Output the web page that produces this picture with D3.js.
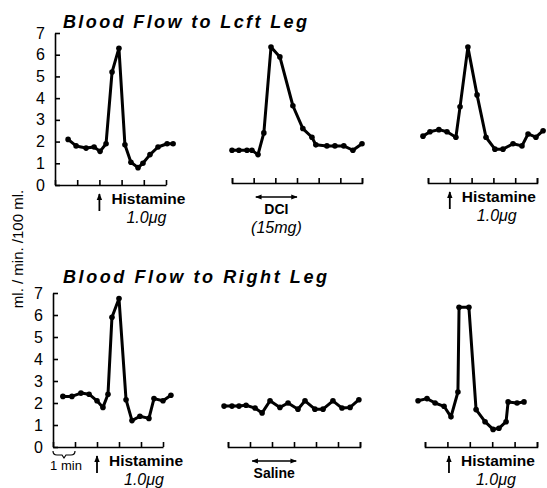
<!DOCTYPE html>
<html>
<head>
<meta charset="utf-8">
<script src="https://cdn.jsdelivr.net/npm/d3@7"></script>
<style>
  body { margin: 0; background: #fff; }
  text { font-family: "Liberation Sans", "DejaVu Sans", sans-serif; fill: #000; }
</style>
</head>
<body>
<div id="chart"></div>
<script>
var svgWidth = 547;
var svgHeight = 488;

// time in minutes from the start of each trace, flow in ml/min/100ml
var leftHistATime = [0.59, 0.95, 1.40, 1.76, 2.03, 2.30, 2.57, 2.88, 3.15, 3.42, 3.74, 3.96, 4.28, 4.64, 5.05, 5.32];
var leftHistAFlow = [2.1, 1.8, 1.7, 1.75, 1.55, 1.9, 5.2, 6.3, 1.85, 1.05, 0.8, 1.0, 1.4, 1.75, 1.9, 1.9];

var leftDciTime = [0, 0.32, 0.69, 0.92, 1.2, 1.47, 1.8, 2.21, 2.81, 3.27, 3.69, 3.87, 4.38, 4.75, 5.16, 5.58, 6.0];
var leftDciFlow = [1.6, 1.6, 1.6, 1.6, 1.4, 2.4, 6.35, 5.9, 3.65, 2.6, 2.2, 1.85, 1.8, 1.8, 1.8, 1.6, 1.9];

var leftHistBTime = [-0.23, 0.09, 0.5, 0.87, 1.28, 1.47, 1.83, 2.25, 2.66, 3.07, 3.44, 3.9, 4.31, 4.59, 4.95, 5.28];
var leftHistBFlow = [2.25, 2.45, 2.55, 2.45, 2.2, 3.6, 6.35, 4.15, 2.2, 1.65, 1.65, 1.9, 1.8, 2.35, 2.2, 2.5];

var rightHistATime = [0.45, 0.86, 1.27, 1.64, 2.0, 2.27, 2.5, 2.68, 3.0, 3.32, 3.59, 3.95, 4.36, 4.59, 5.0, 5.36];
var rightHistAFlow = [2.3, 2.3, 2.45, 2.4, 2.1, 1.8, 2.4, 5.9, 6.75, 2.15, 1.2, 1.4, 1.3, 2.2, 2.1, 2.35];

var rightSalineTime = [-0.18, 0.18, 0.5, 0.82, 1.23, 1.55, 1.91, 2.36, 2.73, 3.18, 3.5, 3.95, 4.32, 4.77, 5.18, 5.55, 5.95];
var rightSalineFlow = [1.86, 1.86, 1.86, 1.9, 1.77, 1.55, 2.1, 1.8, 2.0, 1.72, 2.1, 1.72, 1.72, 2.1, 1.77, 1.8, 2.15];

var rightHistBTime = [-0.31, 0.09, 0.45, 0.85, 1.16, 1.47, 1.52, 1.96, 2.28, 2.68, 3.04, 3.3, 3.62, 3.71, 4.11, 4.42];
var rightHistBFlow = [2.1, 2.2, 2.0, 1.85, 1.37, 2.5, 6.35, 6.35, 1.7, 1.15, 0.8, 0.85, 1.15, 2.05, 2.0, 2.05];

var yTicks = [0, 1, 2, 3, 4, 5, 6, 7];
var rowTitles = ["Blood Flow to Lcft Leg", "Blood Flow to Right Leg"];
var yLabel = "ml. / min. /100 ml.";

var svg = d3.select("#chart")
  .append("svg")
  .attr("width", svgWidth)
  .attr("height", svgHeight);

// one y scale per row of traces
var rowY = [
  d3.scaleLinear().domain([0, 7]).range([185, 33]),
  d3.scaleLinear().domain([0, 7]).range([447, 293])
];
var titleY = [28, 283];

// arrow heads
var defs = svg.append("defs");
function head(id, orient) {
  defs.append("marker")
    .attr("id", id)
    .attr("viewBox", "0 0 10 10")
    .attr("refX", 9).attr("refY", 5)
    .attr("markerWidth", 4).attr("markerHeight", 4)
    .attr("orient", orient)
    .append("path")
    .attr("d", "M0,1 L10,5 L0,9 Z")
    .attr("fill", "#000");
}
head("headEnd", "auto");
head("headStart", "auto-start-reverse");

var panels = [
  {time: leftHistATime, flow: leftHistAFlow, row: 0, x0: 55, x1: 166, mins: 5, yAxis: true, axisShift: 0,
   mark: "inject", at: 2, label: "Histamine", dose: "1.0\u03bcg"},
  {time: leftDciTime, flow: leftDciFlow, row: 0, x0: 232, x1: 362, mins: 6, yAxis: false, axisShift: -2,
   mark: "span", from: 1.1, to: 3.0, label: "DCI", dose: "(15mg)"},
  {time: leftHistBTime, flow: leftHistBFlow, row: 0, x0: 428, x1: 537, mins: 5, yAxis: false, axisShift: -2,
   mark: "inject", at: 1.0, label: "Histamine", dose: "1.0\u03bcg"},
  {time: rightHistATime, flow: rightHistAFlow, row: 1, x0: 53, x1: 163, mins: 5, yAxis: true, axisShift: 0,
   mark: "inject", at: 2, label: "Histamine", dose: "1.0\u03bcg"},
  {time: rightSalineTime, flow: rightSalineFlow, row: 1, x0: 228, x1: 360, mins: 6, yAxis: false, axisShift: 0,
   mark: "span", from: 1.1, to: 3.1, label: "Saline", dose: null},
  {time: rightHistBTime, flow: rightHistBFlow, row: 1, x0: 425, x1: 537, mins: 5, yAxis: false, axisShift: 0,
   mark: "inject", at: 1.07, label: "Histamine", dose: "1.0\u03bcg"}
];

panels.forEach(function(p) {
  var y = rowY[p.row];
  var x = d3.scaleLinear().domain([0, p.mins]).range([p.x0, p.x1]);
  var base = y(0) + p.axisShift;
  var g = svg.append("g");

  // x axis, ticks pointing up every minute
  var xAxis = d3.axisBottom(x)
    .tickValues(d3.range(0, p.mins + 1))
    .tickSizeInner(-5)
    .tickSizeOuter(p.yAxis ? 0 : -5)
    .tickFormat("");
  var xg = g.append("g")
    .attr("transform", `translate(0, ${base})`)
    .call(xAxis);
  xg.selectAll("path, line").attr("stroke", "#000").attr("stroke-width", 1.6);

  if (p.yAxis) {
    var yAxis = d3.axisLeft(y)
      .tickValues(yTicks)
      .tickFormat(d3.format("d"))
      .tickSizeInner(-5)
      .tickSizeOuter(0)
      .tickPadding(10);
    var yg = g.append("g")
      .attr("transform", `translate(${p.x0}, 0)`)
      .call(yAxis);
    yg.selectAll("path, line").attr("stroke", "#000").attr("stroke-width", 1.6);
    yg.selectAll("text")
      .attr("font-size", 16)
      .attr("font-family", "'Liberation Sans', sans-serif");
  }

  // the trace
  var pts = p.time.map(function(t, i) { return [t, p.flow[i]]; });
  var line = d3.line().x(d => x(d[0])).y(d => y(d[1]));
  g.append("path")
    .datum(pts)
    .attr("d", line)
    .attr("fill", "none")
    .attr("stroke", "#000")
    .attr("stroke-width", 3)
    .attr("stroke-linejoin", "round");
  g.selectAll("circle")
    .data(pts)
    .enter()
    .append("circle")
    .attr("cx", d => x(d[0]))
    .attr("cy", d => y(d[1]))
    .attr("r", 2.8)
    .attr("fill", "#000");

  // labels under the axis
  if (p.mark === "inject") {
    var ax = x(p.at);
    g.append("line")
      .attr("x1", ax).attr("x2", ax)
      .attr("y1", base + 26).attr("y2", base + 9)
      .attr("stroke", "#000").attr("stroke-width", 1.8)
      .attr("marker-end", "url(#headEnd)");
    g.append("text")
      .attr("x", ax + 12)
      .attr("y", base + 19)
      .attr("font-size", 14)
      .attr("font-weight", "bold")
      .attr("textLength", 74)
      .attr("lengthAdjust", "spacingAndGlyphs")
      .text(p.label);
    g.append("text")
      .attr("x", ax + 27)
      .attr("y", base + 38)
      .attr("font-size", 16)
      .attr("font-style", "italic")
      .text(p.dose);
  } else {
    var sx0 = x(p.from), sx1 = x(p.to);
    g.append("line")
      .attr("x1", sx0).attr("x2", sx1)
      .attr("y1", base + 14).attr("y2", base + 14)
      .attr("stroke", "#000").attr("stroke-width", 1.6)
      .attr("marker-start", "url(#headStart)")
      .attr("marker-end", "url(#headEnd)");
    g.append("text")
      .attr("x", (sx0 + sx1) / 2)
      .attr("y", base + 31)
      .attr("text-anchor", "middle")
      .attr("font-size", 14)
      .attr("font-weight", "bold")
      .text(p.label);
    if (p.dose) {
      g.append("text")
        .attr("x", (sx0 + sx1) / 2)
        .attr("y", base + 50)
        .attr("text-anchor", "middle")
        .attr("font-size", 16)
        .attr("font-style", "italic")
        .text(p.dose);
    }
  }

  // 1 min brace under the first bottom trace
  if (p.row === 1 && p.yAxis) {
    var bx0 = x(0), bx1 = x(1), by = base + 4;
    g.append("path")
      .attr("d", `M${bx0},${by} Q${bx0},${by + 4} ${bx0 + 4},${by + 4} L${(bx0 + bx1) / 2 - 2},${by + 4} L${(bx0 + bx1) / 2},${by + 7} L${(bx0 + bx1) / 2 + 2},${by + 4} L${bx1 - 4},${by + 4} Q${bx1},${by + 4} ${bx1},${by}`)
      .attr("fill", "none")
      .attr("stroke", "#000")
      .attr("stroke-width", 1.2);
    g.append("text")
      .attr("x", (bx0 + bx1) / 2 + 2)
      .attr("y", base + 23)
      .attr("text-anchor", "middle")
      .attr("font-size", 13)
      .text("1 min");
  }
});

// row titles
rowTitles.forEach(function(t, i) {
  svg.append("text")
    .attr("x", 63)
    .attr("y", titleY[i])
    .attr("font-family", "'DejaVu Sans', sans-serif")
    .attr("font-size", 18)
    .attr("font-weight", "bold")
    .attr("font-style", "italic")
    .attr("textLength", i === 0 ? 244 : 264)
    .attr("lengthAdjust", "spacing")
    .text(t);
});

// shared y label
svg.append("text")
  .attr("transform", "translate(23, 249) rotate(-90)")
  .attr("text-anchor", "middle")
  .attr("font-size", 15)
  .text(yLabel);
</script>
</body>
</html>
